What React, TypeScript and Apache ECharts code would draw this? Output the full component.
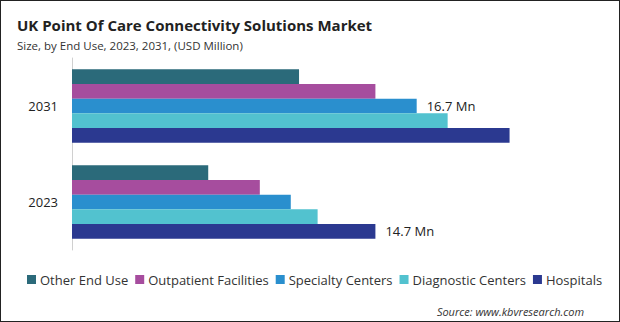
import React, { useEffect, useRef } from "react";
import * as echarts from "echarts";

const years = ["2023", "2031"];
const seriesNames = ["Other End Use", "Outpatient Facilities", "Specialty Centers", "Diagnostic Centers", "Hospitals"];
const otherEndUse = [6.6, 11.0];
const outpatient = [9.1, 14.7];
const specialty = [10.6, 16.7];
const diagnostic = [11.9, 18.2];
const hospitals = [14.7, 21.2];
const colors = ["#2b6a7a", "#a64d9e", "#2a8fce", "#52c2cf", "#2b3990"];

export default function App() {
  const ref = useRef<HTMLDivElement>(null);
  useEffect(() => {
    document.body.style.margin = "0";
    const chart = echarts.init(ref.current!, undefined, { renderer: "svg" });
    const values = [otherEndUse, outpatient, specialty, diagnostic, hospitals];
    const font = "'Open Sans', sans-serif";
    const labelFor = (name: string, idx: number) => {
      if (name === "Specialty Centers" && idx === 1) return true;
      if (name === "Hospitals" && idx === 0) return true;
      return false;
    };
    chart.setOption({
      animation: false,
      textStyle: { fontFamily: font },
      title: [
        {
          text: "UK Point Of Care Connectivity Solutions Market",
          left: 12,
          top: 12,
          textStyle: { fontSize: 15, fontWeight: "bold", color: "#222", fontFamily: font },
        },
        {
          text: "Size, by End Use, 2023, 2031, (USD Million)",
          left: 12,
          top: 34,
          textStyle: { fontSize: 11.5, fontWeight: "normal", color: "#333", fontFamily: font },
        },
        {
          text: "Source: www.kbvresearch.com",
          right: 31,
          top: 301,
          textStyle: { fontSize: 11, fontStyle: "italic", fontWeight: "normal", color: "#333", fontFamily: font },
        },
      ],
      legend: {
        left: 22,
        top: 268,
        itemWidth: 9,
        itemHeight: 9,
        itemGap: 7,
        icon: "rect",
        textStyle: { fontSize: 13, color: "#333", fontFamily: font, padding: [0, 0, 0, -1] },
        data: seriesNames,
      },
      grid: { left: 72, right: 32, top: 58, height: 192 },
      xAxis: {
        type: "value",
        min: 0,
        max: 25,
        show: false,
      },
      yAxis: {
        type: "category",
        data: years,
        axisLine: { show: true, lineStyle: { color: "#d0d0d0" } },
        axisTick: { show: false },
        axisLabel: { fontSize: 13, color: "#222", margin: 14, fontFamily: font },
      },
      series: seriesNames.map((name, i) => ({
        name,
        type: "bar",
        barWidth: 14.7,
        barGap: "0%",
        itemStyle: { color: colors[i] },
        data: values[i].map((v, j) => ({
          value: v,
          label: {
            show: labelFor(name, j),
            position: "right",
            distance: 10,
            formatter: (p: any) => p.value + " Mn",
            fontSize: 13,
            color: "#222",
            fontFamily: font,
          },
        })),
      })),
    });
    return () => chart.dispose();
  }, []);
  return (
    <div style={{ position: "relative", width: 620, height: 322 }}>
      <div ref={ref} style={{ width: 620, height: 322 }} />
      <div
        style={{
          position: "absolute",
          left: 0,
          top: 0,
          width: 620,
          height: 322,
          boxSizing: "border-box",
          border: "1px solid #222",
          pointerEvents: "none",
        }}
      />
    </div>
  );
}
